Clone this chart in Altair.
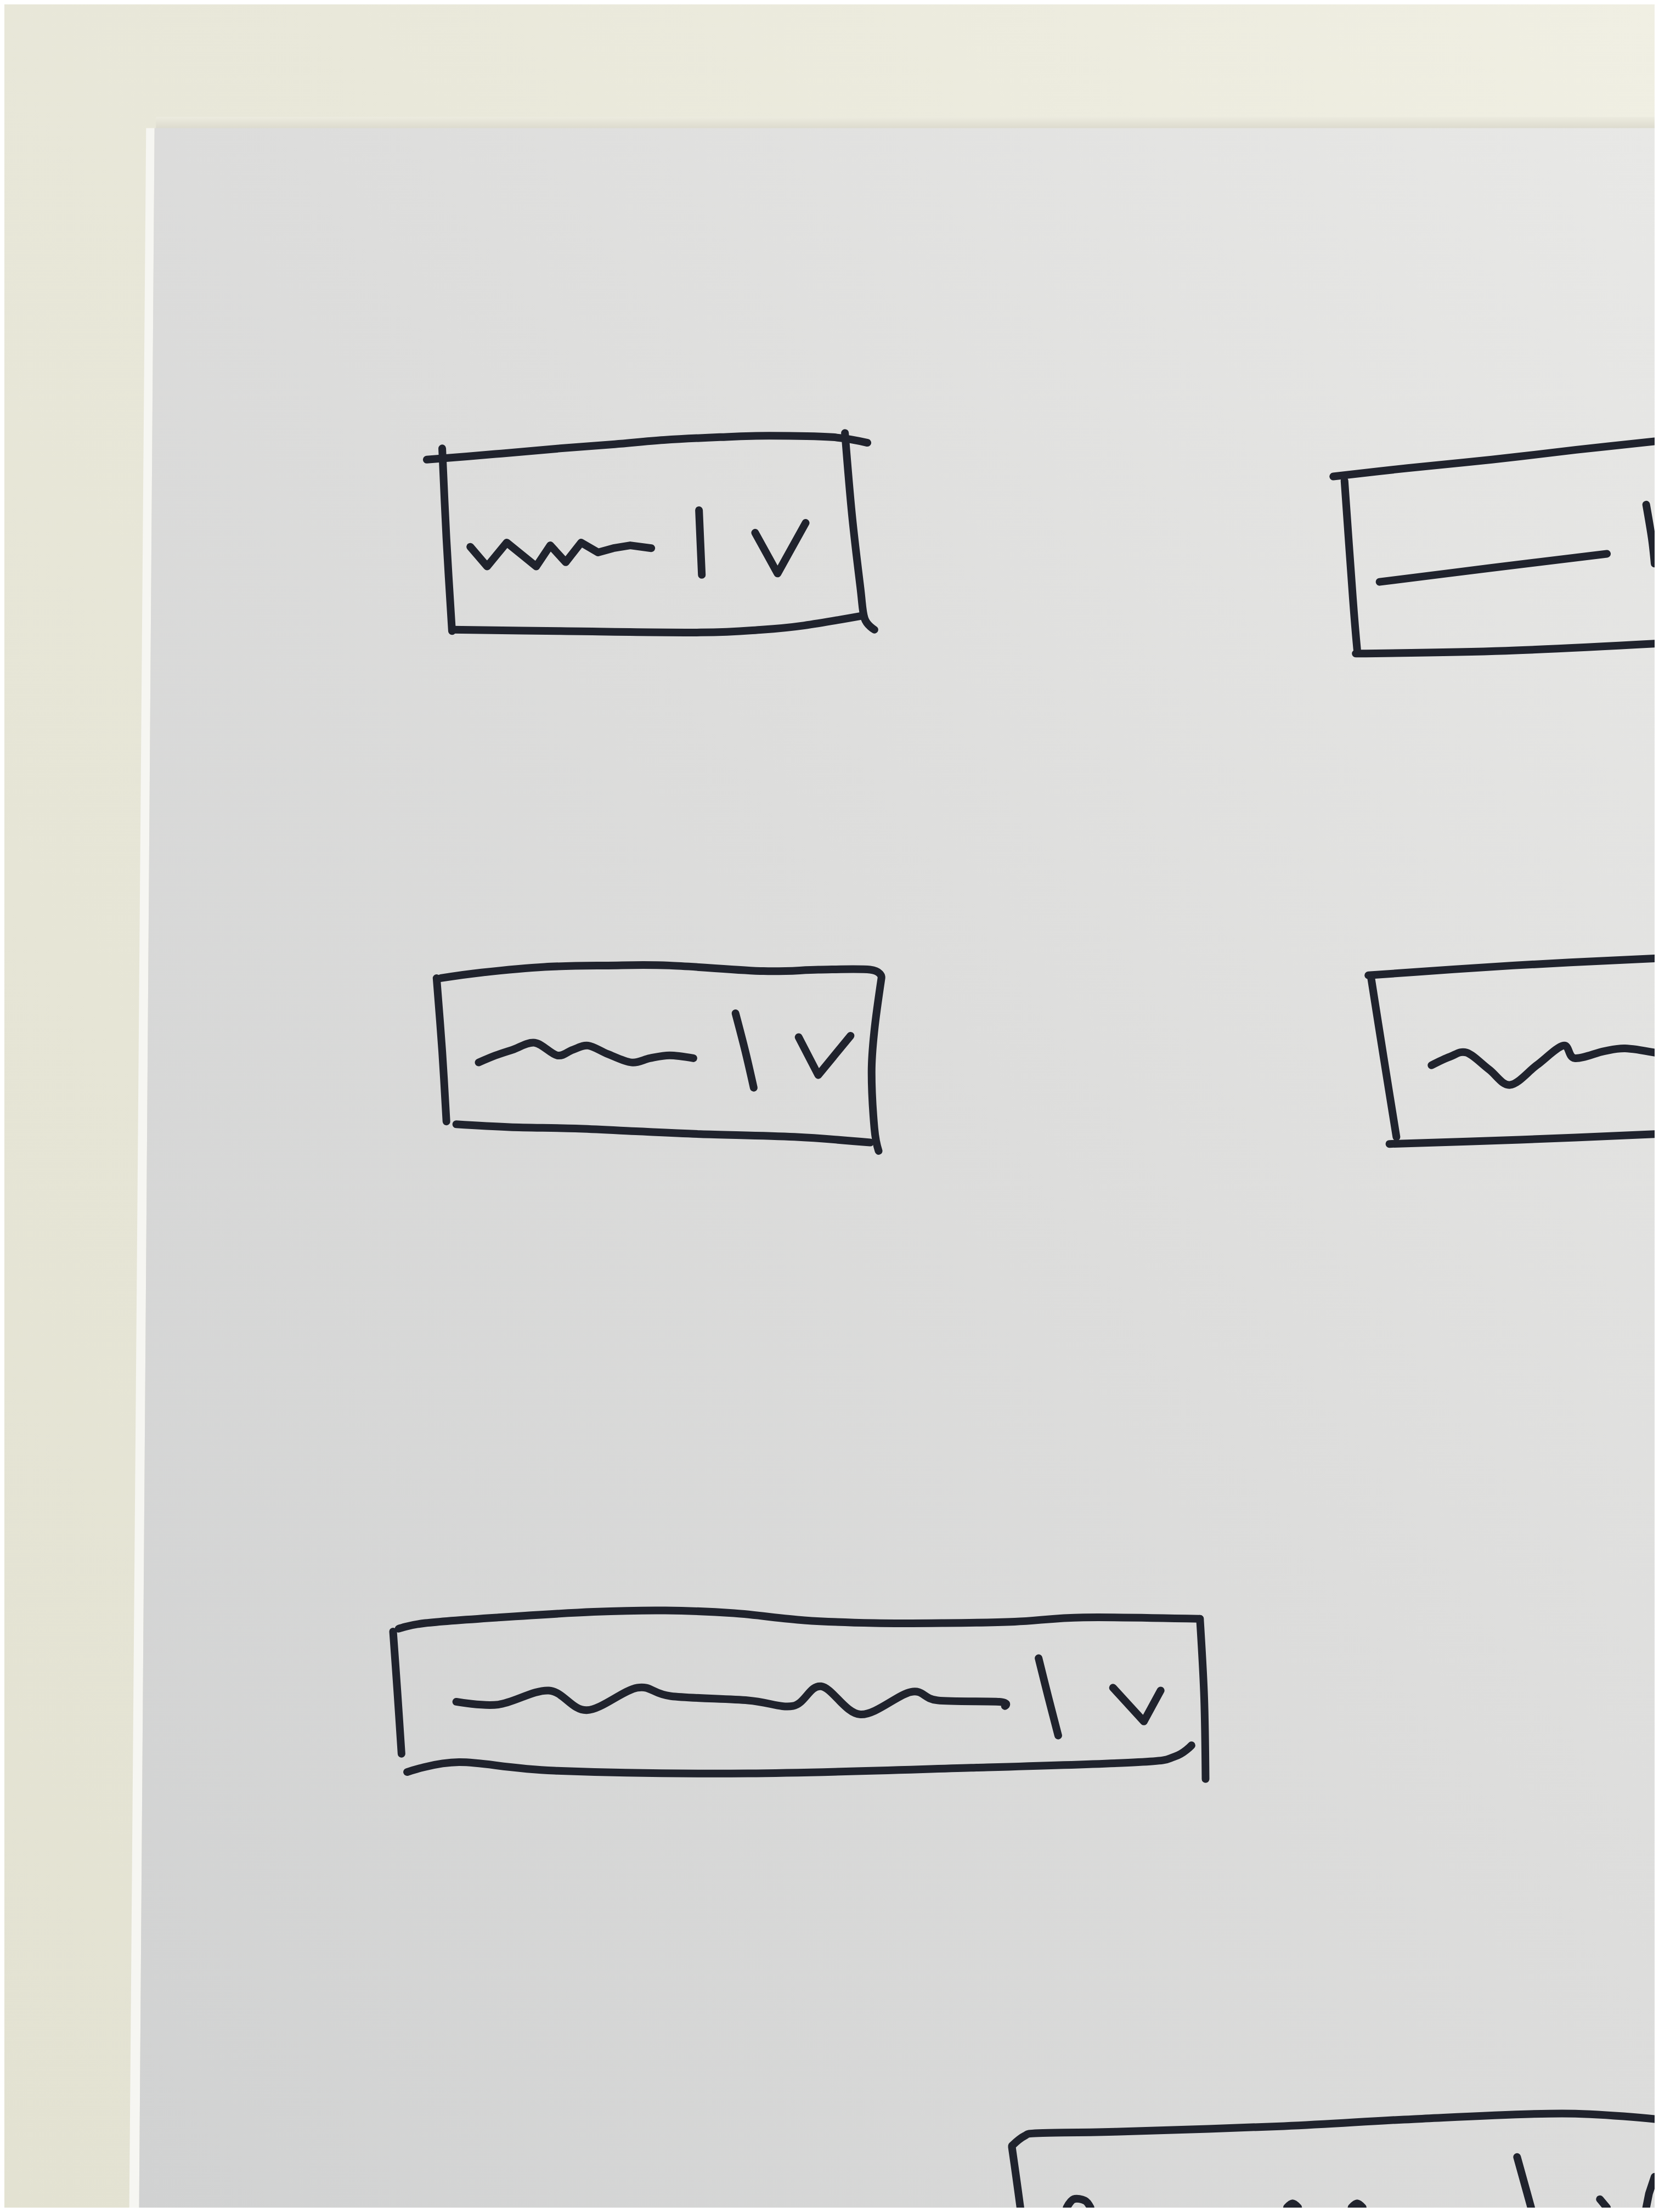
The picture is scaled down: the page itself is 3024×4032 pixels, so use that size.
import pandas as pd
import altair as alt

# Everything on a 1176 x 1568 grid (x right, y down).
GRID_W, GRID_H = 1176, 1568
OUT_W, OUT_H = 3008, 4016

# wall behind the sheet, and the sheet itself
WALL_X = [0, 1176]
WALL_Y = [0, 1568]
SHADOW_X = [108, 1176]
SHADOW_Y = [80, 89]
PAPER_Y = [88, 1568]
PAPER_EDGE_X = [101, 89]   # outer edge of the white cut
PAPER_FACE_X = [107, 96]   # where the grey face of the sheet starts

# dropdown 1 (top left)
BOX1_TOP = [(301, 324), (350, 320), (396, 316), (435, 313), (470, 310), (510, 308), (545, 307), (590, 308), (615, 312)]
BOX1_LEFT = [(312, 316), (315, 380), (319, 446)]
BOX1_RIGHT = [(599, 305), (604, 363), (610, 415), (613, 437), (620, 445)]
BOX1_BOTTOM = [(319, 445), (396, 446), (496, 447), (540, 445), (570, 442), (612, 435)]
BOX1_TEXT = [(332, 386), (344, 400), (358, 383), (379, 400), (389, 385), (400, 397), (411, 383), (423, 390), (434, 387), (446, 385), (461, 387)]
BOX1_SEP = [(495, 360), (496, 383), (497, 406)]
BOX1_CHEV = [(535, 376), (551, 405), (571, 369)]

# dropdown 2 (top right, cut off)
BOX2_TOP = [(947, 336), (1000, 330), (1060, 324), (1120, 317), (1176, 311)]
BOX2_LEFT = [(955, 339), (961, 423), (964, 459)]
BOX2_BOTTOM = [(963, 462), (1070, 460), (1176, 455)]
BOX2_TEXT = [(980, 411), (1060, 401), (1142, 391)]
BOX2_SEP = [(1170, 356), (1174, 380), (1176, 398)]

# dropdown 3 (middle left)
BOX3_TOP = [(311, 693), (340, 689), (385, 685), (430, 684), (474, 684), (541, 688), (580, 687), (617, 687), (625, 692)]
BOX3_LEFT = [(308, 693), (312, 745), (315, 795)]
BOX3_RIGHT = [(625, 693), (620, 730), (618, 760), (620, 800), (623, 816)]
BOX3_BOTTOM = [(322, 797), (360, 799), (407, 800), (450, 802), (496, 804), (563, 806), (617, 810)]
BOX3_TEXT = [(338, 753), (350, 748), (362, 744), (378, 739), (394, 748), (405, 744), (416, 741), (430, 747), (447, 753), (460, 750), (474, 748), (491, 750)]
BOX3_SEP = [(521, 718), (528, 745), (534, 771)]
BOX3_CHEV = [(566, 735), (580, 762), (603, 734)]

# dropdown 4 (middle right, cut off)
BOX4_TOP = [(972, 691), (1075, 684), (1176, 679)]
BOX4_LEFT = [(974, 693), (983, 750), (992, 806)]
BOX4_BOTTOM = [(987, 811), (1080, 808), (1176, 804)]
BOX4_TEXT = [(1017, 755), (1030, 749), (1042, 746), (1058, 758), (1073, 769), (1092, 755), (1111, 741), (1119, 750), (1140, 745), (1155, 743), (1176, 746)]

# dropdown 5 (wide one)
BOX5_TOP = [(281, 1156), (300, 1152), (352, 1148), (420, 1144), (471, 1143), (520, 1145), (570, 1150), (620, 1152), (669, 1152), (720, 1151), (769, 1148), (852, 1149)]
BOX5_LEFT = [(277, 1158), (280, 1200), (283, 1245)]
BOX5_RIGHT = [(852, 1149), (855, 1205), (856, 1263)]
BOX5_BOTTOM = [(287, 1258), (324, 1251), (392, 1257), (530, 1259), (689, 1255), (808, 1251), (834, 1247), (846, 1239)]
BOX5_TEXT = [(322, 1208), (352, 1210), (388, 1200), (415, 1214), (451, 1198), (475, 1204), (530, 1207), (562, 1211), (582, 1197), (610, 1217), (646, 1201), (665, 1207), (709, 1208), (713, 1211)]
BOX5_SEP = [(737, 1177), (744, 1205), (751, 1232)]
BOX5_CHEV = [(790, 1198), (812, 1222), (824, 1200)]

# dropdown 6 (bottom, mostly off the photo)
BOX6_TOP = [(718, 1524), (727, 1517), (737, 1515), (791, 1514), (912, 1510), (1004, 1505), (1110, 1501), (1176, 1505)]
BOX6_LEFT = [(718, 1525), (721, 1546), (724, 1568)]
BOX6_TEXT = [(757, 1568), (762, 1562), (770, 1563), (774, 1568)]
BOX6_BUMP1 = [(914, 1568), (918, 1565), (922, 1568)]
BOX6_BUMP2 = [(960, 1568), (964, 1565), (968, 1568)]
BOX6_SEP = [(1078, 1532), (1083, 1550), (1088, 1568)]
BOX6_CHEV_L = [(1137, 1562), (1142, 1568)]
BOX6_CHEV_R = [(1176, 1546), (1172, 1558), (1170, 1568)]

STROKES = {
    "box1_top": BOX1_TOP, "box1_left": BOX1_LEFT, "box1_right": BOX1_RIGHT,
    "box1_bottom": BOX1_BOTTOM, "box1_text": BOX1_TEXT, "box1_sep": BOX1_SEP,
    "box1_chev": BOX1_CHEV,
    "box2_top": BOX2_TOP, "box2_left": BOX2_LEFT, "box2_bottom": BOX2_BOTTOM,
    "box2_text": BOX2_TEXT, "box2_sep": BOX2_SEP,
    "box3_top": BOX3_TOP, "box3_left": BOX3_LEFT, "box3_right": BOX3_RIGHT,
    "box3_bottom": BOX3_BOTTOM, "box3_text": BOX3_TEXT, "box3_sep": BOX3_SEP,
    "box3_chev": BOX3_CHEV,
    "box4_top": BOX4_TOP, "box4_left": BOX4_LEFT, "box4_bottom": BOX4_BOTTOM,
    "box4_text": BOX4_TEXT,
    "box5_top": BOX5_TOP, "box5_left": BOX5_LEFT, "box5_right": BOX5_RIGHT,
    "box5_bottom": BOX5_BOTTOM, "box5_text": BOX5_TEXT, "box5_sep": BOX5_SEP,
    "box5_chev": BOX5_CHEV,
    "box6_top": BOX6_TOP, "box6_left": BOX6_LEFT, "box6_text": BOX6_TEXT,
    "box6_bump1": BOX6_BUMP1, "box6_bump2": BOX6_BUMP2, "box6_sep": BOX6_SEP,
    "box6_chev_l": BOX6_CHEV_L, "box6_chev_r": BOX6_CHEV_R,
}

# pen strokes with hard corners get straight segments, the rest are smoothed
SHARP = {"box1_text", "box1_chev", "box3_chev", "box5_chev", "box6_chev_l", "box6_chev_r"}

INK = "#20232d"

ink = pd.DataFrame(
    [{"stroke": name, "i": i, "x": x, "y": y, "sharp": name in SHARP}
     for name, pts in STROKES.items() for i, (x, y) in enumerate(pts)]
)
wall = pd.DataFrame({"x": [WALL_X[0]], "x2": [WALL_X[1]], "y": [WALL_Y[0]], "y2": [WALL_Y[1]]})
shadow = pd.DataFrame({"x": [SHADOW_X[0]], "x2": [SHADOW_X[1]], "y": [SHADOW_Y[0]], "y2": [SHADOW_Y[1]]})
edge = pd.DataFrame({"y": PAPER_Y, "x": PAPER_EDGE_X, "x2": PAPER_FACE_X})
face = pd.DataFrame({"y": PAPER_Y, "x": PAPER_FACE_X, "x2": [GRID_W, GRID_W]})

xs = alt.Scale(domain=[0, GRID_W], nice=False, zero=False)
ys = alt.Scale(domain=[GRID_H, 0], nice=False, zero=False)


def grad(stops, x1=0, y1=0, x2=0, y2=1):
    return alt.LinearGradient(
        gradient="linear",
        stops=[alt.GradientStop(color=c, offset=o) for o, c in stops],
        x1=x1, y1=y1, x2=x2, y2=y2,
    )


wall_layer = alt.Chart(wall).mark_rect(
    color=grad([(0, "#f0efe3"), (0.4, "#e9e8da"), (1, "#e3e2d2")], x1=1, y1=0, x2=0, y2=1)
).encode(
    x=alt.X("x:Q", scale=xs, axis=None), x2="x2:Q",
    y=alt.Y("y:Q", scale=ys, axis=None), y2="y2:Q",
)

shadow_layer = alt.Chart(shadow).mark_rect(
    color=grad([(0, "#ecebdf"), (1, "#dbd9cc")])
).encode(
    x=alt.X("x:Q", scale=xs, axis=None), x2="x2:Q",
    y=alt.Y("y:Q", scale=ys, axis=None), y2="y2:Q",
)

edge_layer = alt.Chart(edge).mark_area(
    orient="horizontal", color="#f6f6f2"
).encode(
    y=alt.Y("y:Q", scale=ys, axis=None),
    x=alt.X("x:Q", scale=xs, axis=None), x2="x2:Q",
)

face_layer = alt.Chart(face).mark_area(
    orient="horizontal",
    color=grad([(0, "#e8e8e6"), (0.45, "#dddddc"), (1, "#d1d2d2")], x1=1, y1=0, x2=0, y2=1),
).encode(
    y=alt.Y("y:Q", scale=ys, axis=None),
    x=alt.X("x:Q", scale=xs, axis=None), x2="x2:Q",
)

pen = alt.Chart(ink).encode(
    x=alt.X("x:Q", scale=xs, axis=None),
    y=alt.Y("y:Q", scale=ys, axis=None),
    detail="stroke:N",
    order="i:Q",
)
smooth_lines = pen.transform_filter("!datum.sharp").mark_line(
    color=INK, strokeWidth=14, strokeCap="round", strokeJoin="round",
    interpolate="cardinal", clip=True,
)
sharp_lines = pen.transform_filter("datum.sharp").mark_line(
    color=INK, strokeWidth=14, strokeCap="round", strokeJoin="round",
    interpolate="linear", clip=True,
)

chart = alt.layer(
    wall_layer, shadow_layer, edge_layer, face_layer, smooth_lines, sharp_lines
).properties(
    width=OUT_W, height=OUT_H, padding=0, background="#ecebdf",
    autosize=alt.AutoSizeParams(type="none"),
).configure_view(stroke="transparent")

chart.save("out.html", embed_options={"renderer": "svg", "actions": False})
